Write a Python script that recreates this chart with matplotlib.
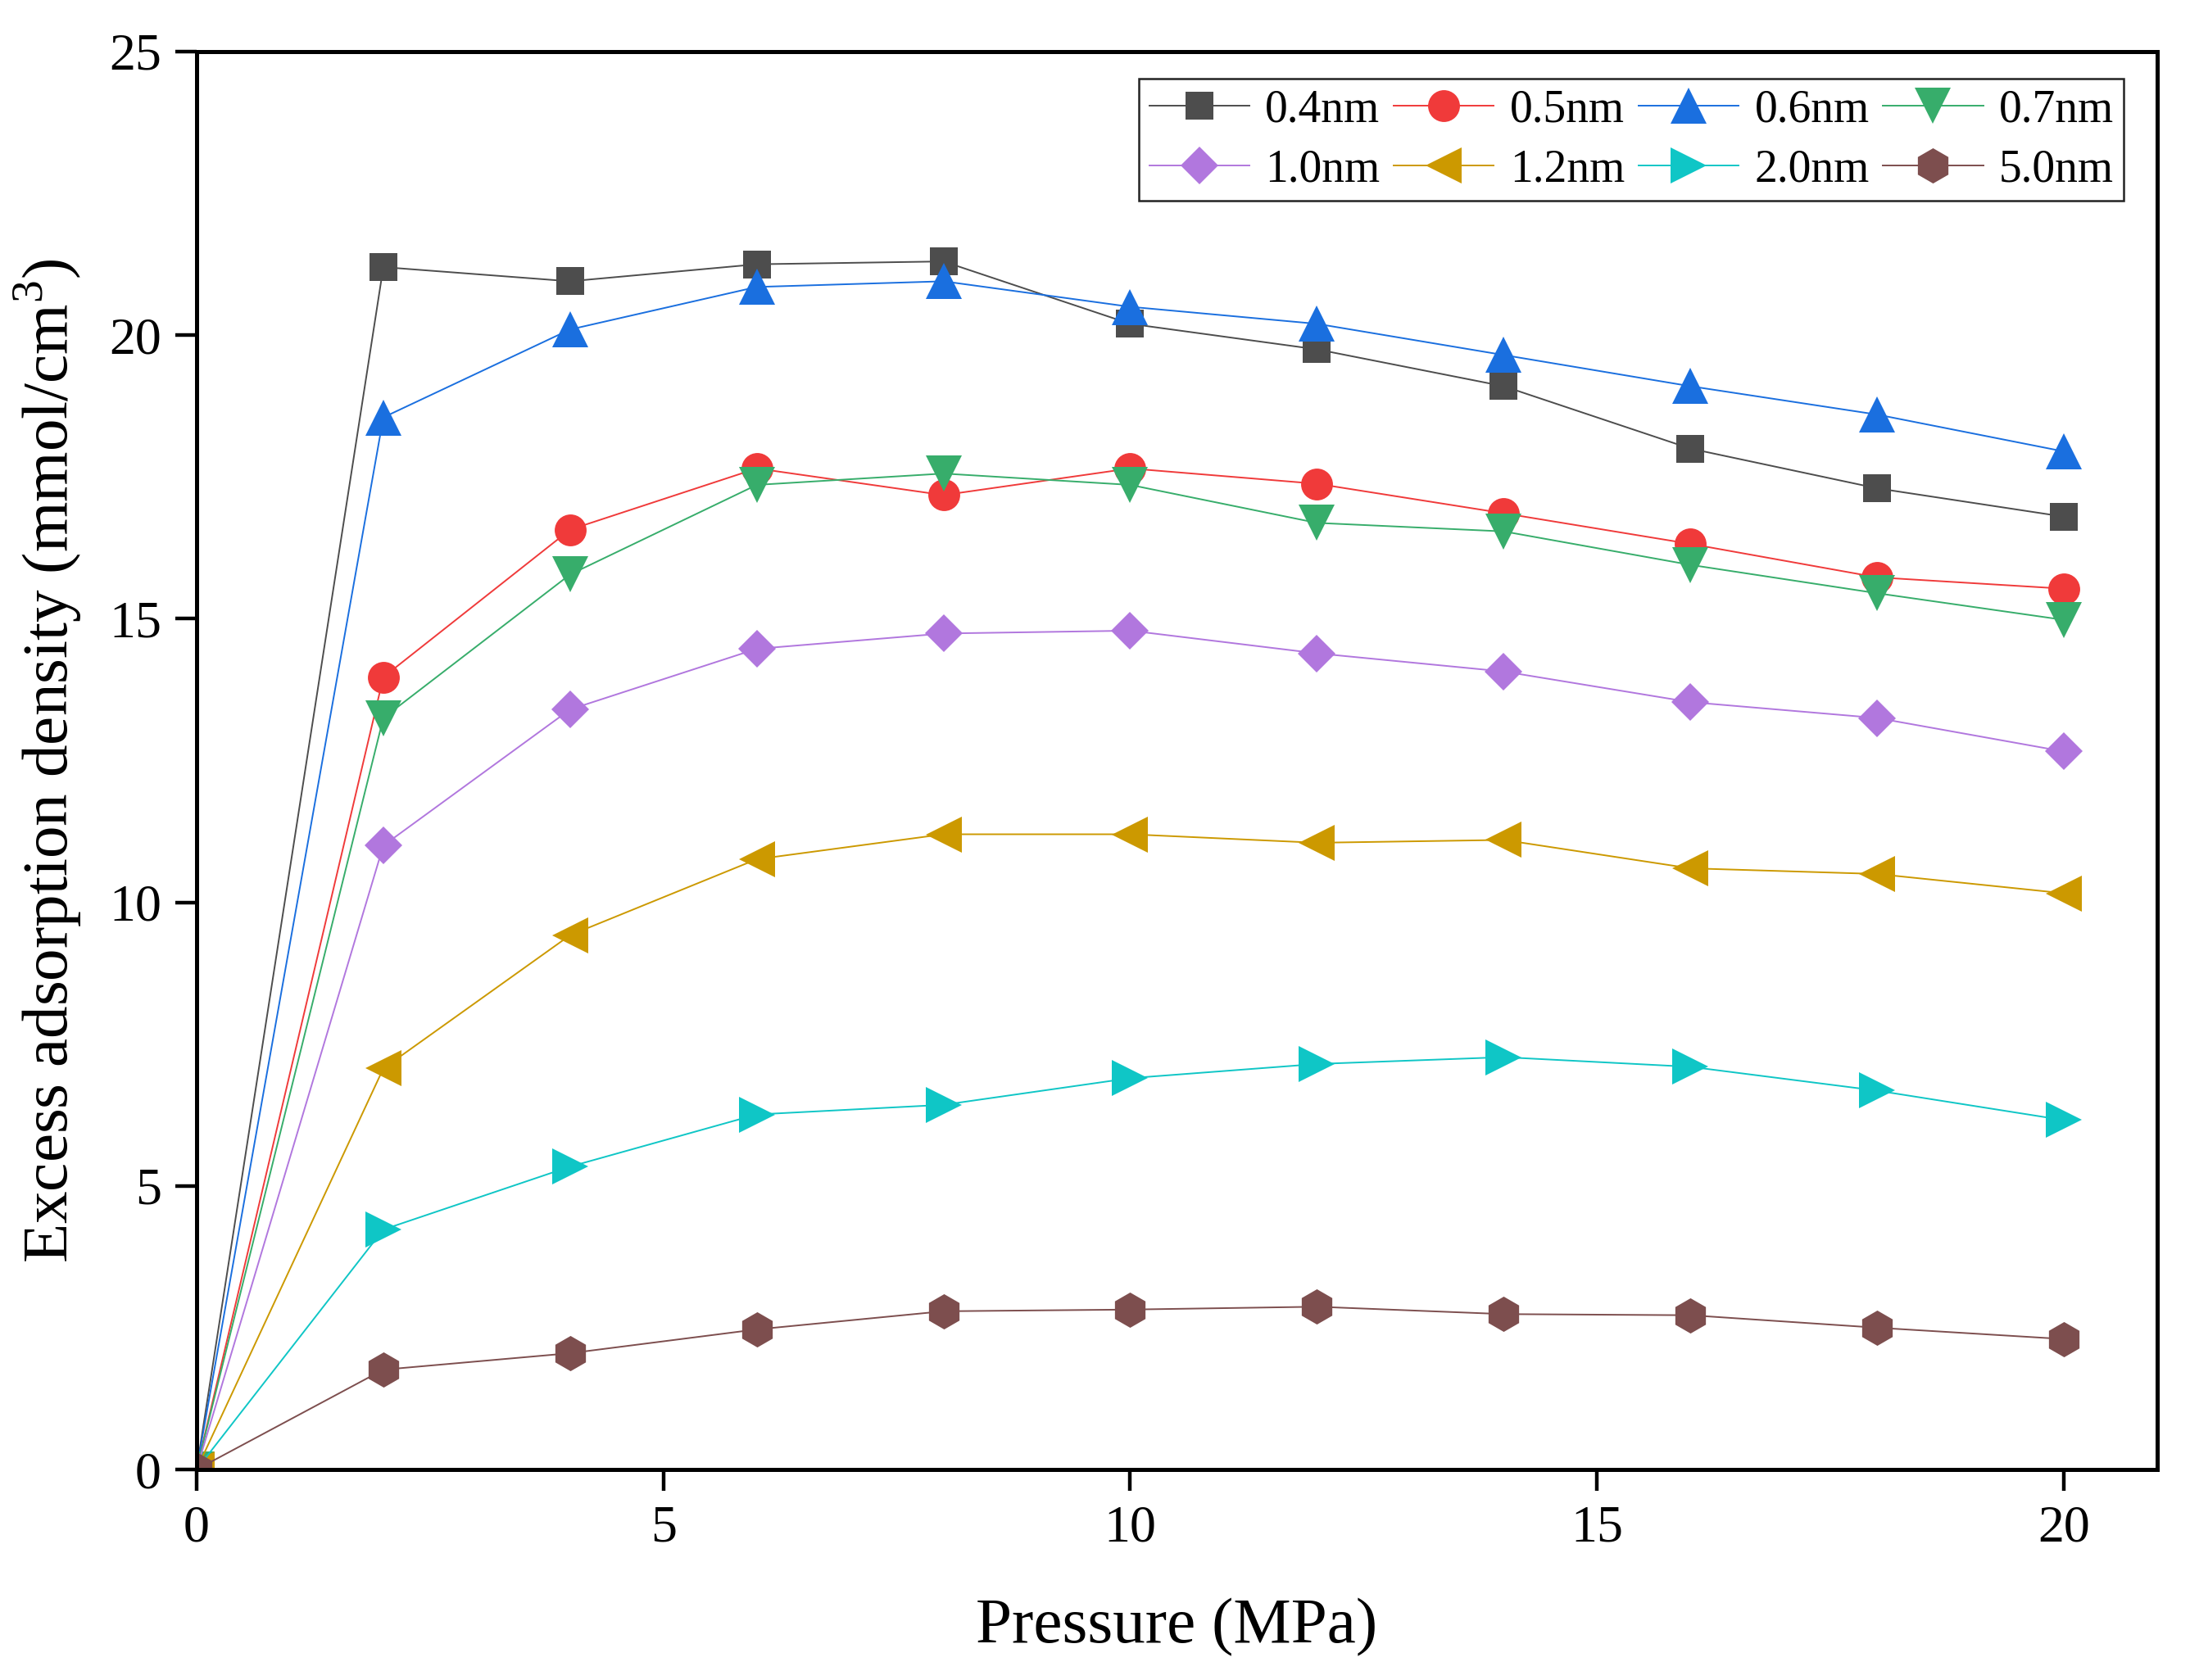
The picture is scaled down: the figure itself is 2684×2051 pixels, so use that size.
import matplotlib
matplotlib.use("Agg")
import matplotlib.pyplot as plt

plt.rcParams["font.family"] = ["Liberation Serif", "DejaVu Serif"]
plt.rcParams["mathtext.fontset"] = "custom"
plt.rcParams["mathtext.rm"] = "Liberation Serif"

pressure = [0, 2, 4, 6, 8, 10, 12, 14, 16, 18, 20]

pore_labels = ["0.4nm", "0.5nm", "0.6nm", "0.7nm", "1.0nm", "1.2nm", "2.0nm", "5.0nm"]

d_04 = [0, 21.2, 20.95, 21.25, 21.3, 20.2, 19.75, 19.1, 18.0, 17.3, 16.8]
d_05 = [0, 13.97, 16.57, 17.65, 17.18, 17.65, 17.38, 16.86, 16.32, 15.73, 15.53]
d_06 = [0, 18.55, 20.1, 20.85, 20.95, 20.5, 20.2, 19.65, 19.1, 18.6, 17.95]
d_07 = [0, 13.25, 15.78, 17.36, 17.56, 17.36, 16.69, 16.54, 15.95, 15.45, 14.98]
d_10 = [0, 11.0, 13.4, 14.47, 14.74, 14.79, 14.39, 14.07, 13.53, 13.25, 12.66]
d_12 = [0, 7.07, 9.42, 10.76, 11.2, 11.2, 11.05, 11.1, 10.6, 10.5, 10.16]
d_20 = [0, 4.23, 5.34, 6.26, 6.43, 6.9, 7.15, 7.27, 7.1, 6.68, 6.16]
d_50 = [0, 1.76, 2.05, 2.47, 2.79, 2.82, 2.87, 2.74, 2.72, 2.5, 2.3]

series = [d_04, d_05, d_06, d_07, d_10, d_12, d_20, d_50]
colors = ["#4d4d4d", "#f03a3a", "#1a6fdf", "#37ad6b", "#b177de", "#cc9900", "#0fc6c6", "#7d4e4e"]
markers = ["s", "o", "^", "v", "D", "<", ">", "h"]
msizes = [25, 28, 32, 32, 23, 32, 32, 31]

fig = plt.figure(figsize=(26.84, 20.51), dpi=100)
ax = fig.add_axes([0.0894, 0.1253, 0.8916, 0.844])

handles = []
for vals, lab, c, m, ms in zip(series, pore_labels, colors, markers, msizes):
    h, = ax.plot(pressure, vals, color=c, marker=m, markersize=ms, markeredgewidth=0,
                 linewidth=1.4, label=lab)
    handles.append(h)

ax.set_xlim(0, 21)
ax.set_ylim(0, 25)
ax.set_xticks([0, 5, 10, 15, 20])
ax.set_yticks([0, 5, 10, 15, 20, 25])

for sp in ax.spines.values():
    sp.set_linewidth(3.6)
ax.tick_params(axis="both", which="major", direction="out", length=19, width=3.2,
               labelsize=46, pad=12, top=False, right=False)

ax.set_xlabel("Pressure (MPa)", fontsize=57, labelpad=40)
ax.set_ylabel("Excess adsorption density (mmol/cm$^3$)", fontsize=57, labelpad=22)

# legend reads row by row: reorder for matplotlib's column filling
order = [0, 4, 1, 5, 2, 6, 3, 7]
leg = ax.legend([handles[i] for i in order], [pore_labels[i] for i in order],
                loc="upper right", ncol=4, fontsize=40, frameon=True, fancybox=False,
                edgecolor="#222222", framealpha=1, handlelength=2.2, handletextpad=0.35,
                columnspacing=0.3, labelspacing=0.38, borderpad=0.22,
                bbox_to_anchor=(0.983, 0.981), borderaxespad=0)
leg.get_frame().set_linewidth(1.8)

plt.savefig("out.png", dpi=100)
